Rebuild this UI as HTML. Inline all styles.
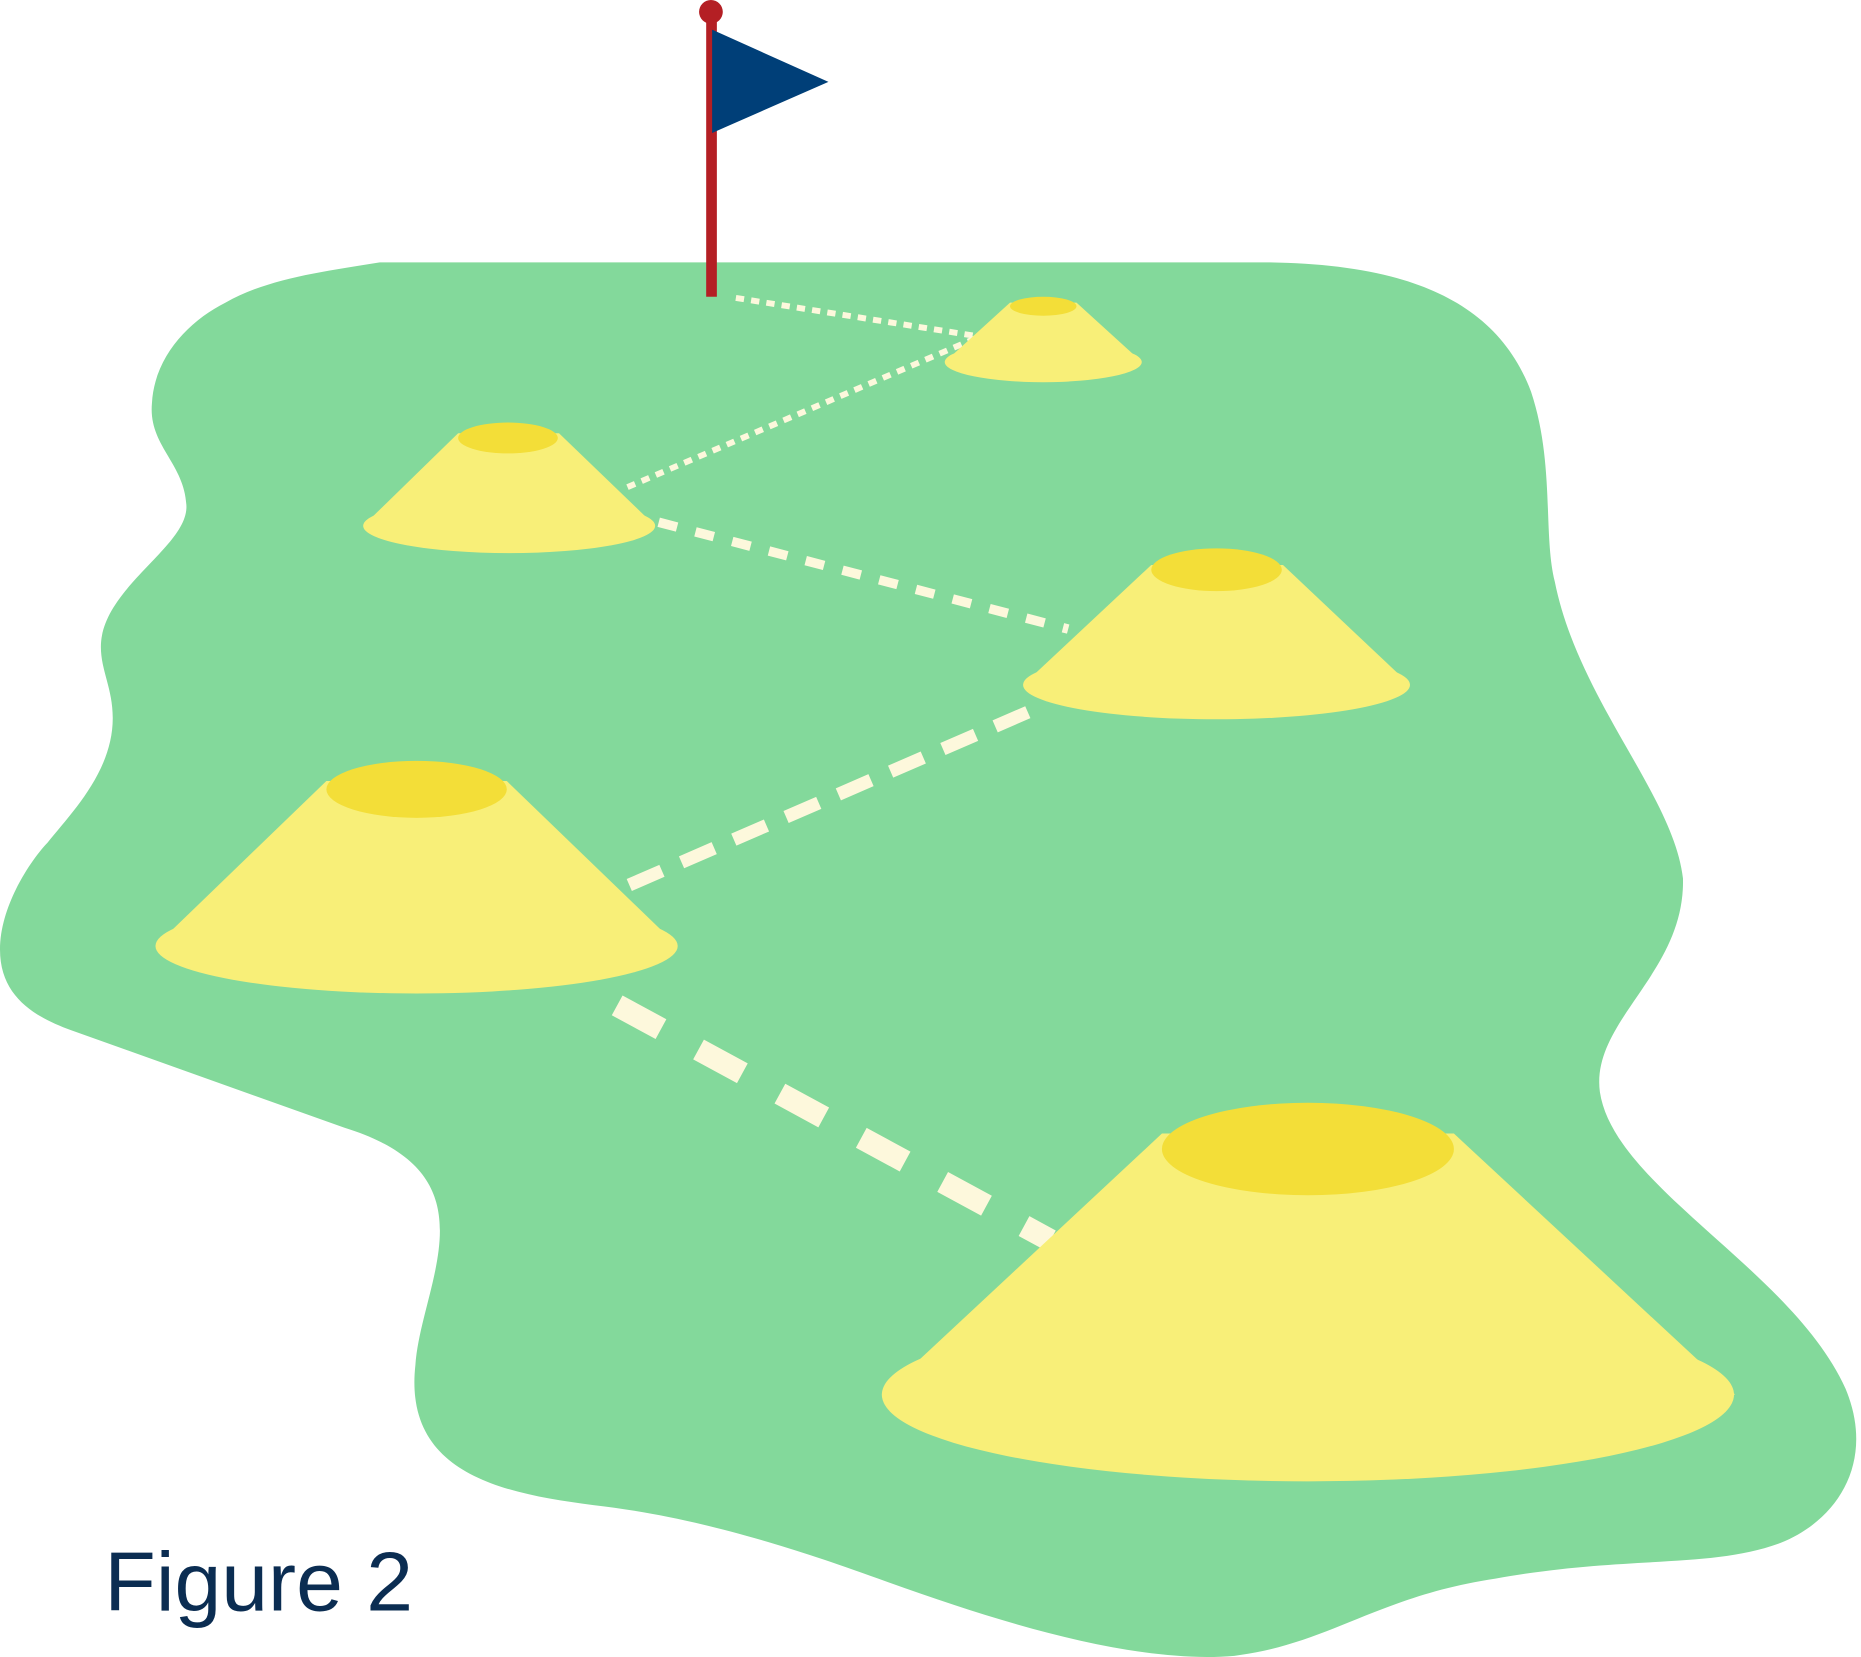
<!DOCTYPE html>
<html><head><style>html,body{margin:0;padding:0;background:#fff}svg{display:block}</style></head>
<body>
<svg width="1861" height="1657" viewBox="0 0 1568 1396" preserveAspectRatio="none" xmlns="http://www.w3.org/2000/svg">
<path fill="#83d99b" d="M320,221 L1065,221 C1180,222 1260,250 1290,330 C1310,390 1300,450 1310,490 C1330,590 1410,670 1418,740 C1420,820 1340,860 1348,920 C1360,1000 1510,1070 1555,1170 C1580,1230 1550,1280 1500,1300 C1440,1322 1370,1310 1260,1330 C1160,1345 1120,1385 1040,1395 C960,1402 850,1370 740,1330 C630,1290 560,1275 500,1268 C420,1258 340,1240 350,1150 C355,1080 420,990 290,950 L60,868 C30,857 0,840 0,800 C0,760 30,720 40,710 C60,685 95,650 95,605 C95,580 85,565 85,545 C85,495 160,460 157,425 C155,390 125,375 128,340 C130,300 160,270 190,255 C225,235 270,229 320,221 Z"/>
<g stroke="#fdf8dc" fill="none">
<line x1="620" y1="251" x2="822" y2="283" stroke-width="5" stroke-dasharray="7 6"/>
<line x1="822" y1="285" x2="525" y2="412" stroke-width="5" stroke-dasharray="7 6"/>
<line x1="555" y1="440" x2="900" y2="530" stroke-width="8" stroke-dasharray="16 16"/>
<line x1="866" y1="600" x2="520" y2="750" stroke-width="11" stroke-dasharray="30 18"/>
<line x1="520" y1="847" x2="885" y2="1045" stroke-width="19" stroke-dasharray="42 36"/>
</g>
<g fill="#f8ef78">
<path d="M851,255 L907,255 L962,305 L796,305 Z"/>
<ellipse cx="879" cy="305" rx="83" ry="17"/>
<path d="M386,365 L471,365 L552,443 L306,443 Z"/>
<ellipse cx="429" cy="443" rx="123" ry="23"/>
<path d="M970,476 L1081,476 L1188,577 L862,577 Z"/>
<ellipse cx="1025" cy="577" rx="163" ry="29"/>
<path d="M275,658 L427,658 L571,797 L131,797 Z"/>
<ellipse cx="351" cy="797" rx="220" ry="40"/>
<path d="M979,955 L1225,955 L1462,1175 L743,1175 Z"/>
<ellipse cx="1102" cy="1175" rx="359" ry="73"/>
</g>
<ellipse cx="879" cy="258" rx="28" ry="8" fill="#f3de38"/>
<ellipse cx="428" cy="369" rx="42" ry="13" fill="#f3de38"/>
<ellipse cx="1025" cy="480" rx="55" ry="18" fill="#f3de38"/>
<ellipse cx="351" cy="665" rx="76" ry="24" fill="#f3de38"/>
<ellipse cx="1102" cy="968" rx="123" ry="39" fill="#f3de38"/>
<rect x="595" y="12" width="9" height="238" fill="#b41f24"/>
<circle cx="599" cy="10" r="10" fill="#b41f24"/>
<polygon points="600,25 698,69 600,112" fill="#003f78"/>
<text x="88" y="1357" font-family="Liberation Sans, sans-serif" font-size="70" fill="#0b2d52" textLength="260" lengthAdjust="spacingAndGlyphs">Figure 2</text>
</svg>
</body></html>
